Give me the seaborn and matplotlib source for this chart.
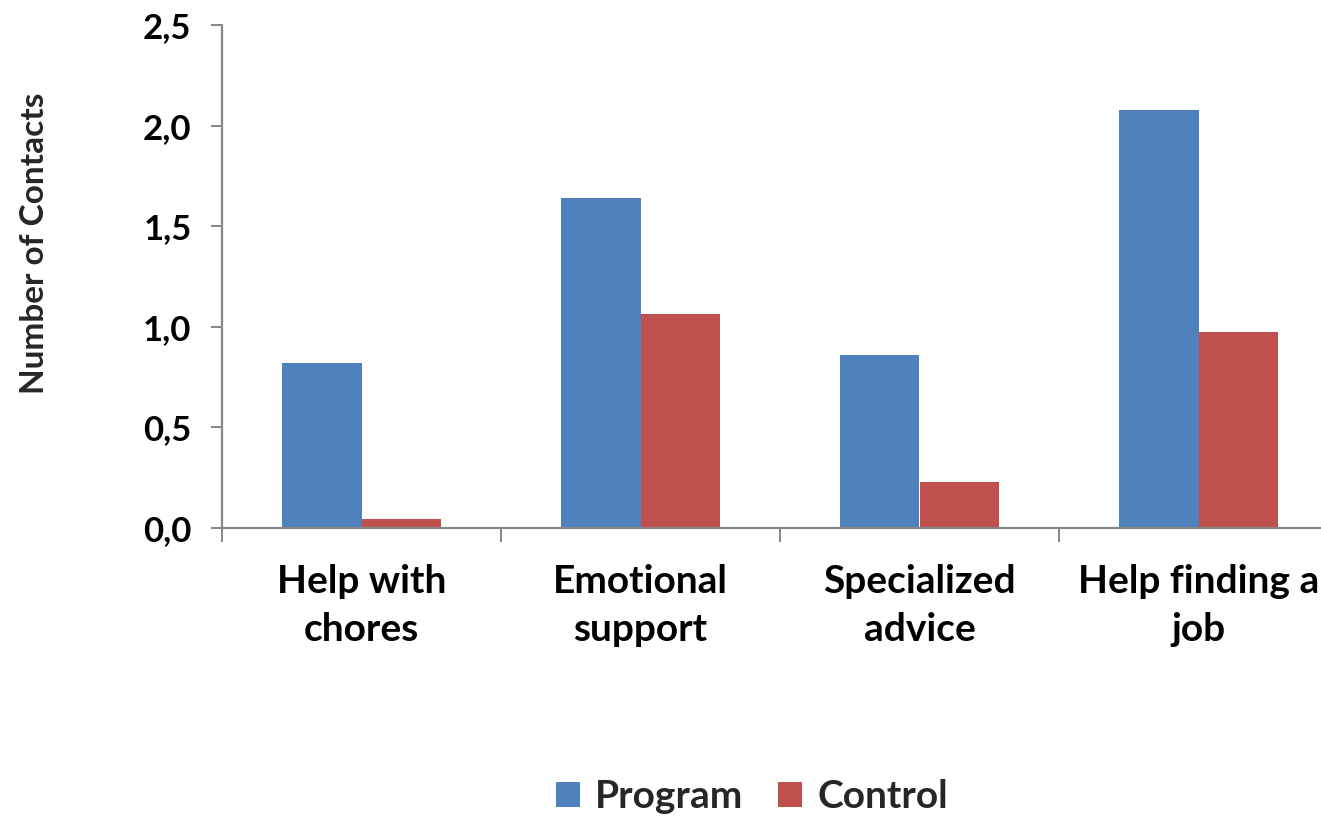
import matplotlib
matplotlib.use("Agg")
import matplotlib.pyplot as plt
from matplotlib.ticker import FuncFormatter, FixedLocator
import seaborn as sns
import pandas as pd

categories = ["Help with\nchores", "Emotional\nsupport", "Specialized\nadvice", "Help finding a\njob"]
program = [0.82, 1.64, 0.86, 2.08]
control = [0.045, 1.065, 0.23, 0.975]
series = ["Program", "Control"]
colors = ["#4F81BD", "#C0504D"]

df = pd.DataFrame({
    "category": categories * 2,
    "group": [series[0]] * len(categories) + [series[1]] * len(categories),
    "value": program + control,
})

sns.set_theme(style="white")
plt.rcParams["font.family"] = ["Lato", "DejaVu Sans"]
plt.rcParams["font.weight"] = "bold"

fig = plt.figure(figsize=(13.21, 8.17), dpi=100)
ax = fig.add_axes([222 / 1321, 1 - 528 / 817, 1116 / 1321, 503 / 817])

sns.barplot(data=df, x="category", y="value", hue="group", order=categories,
            hue_order=series, palette=colors, width=0.567, gap=0,
            edgecolor="none", linewidth=0, saturation=1, ax=ax)

ax.set_xlim(-0.5, 3.5)
ax.set_ylim(0, 2.5)
ax.set_yticks([0, 0.5, 1.0, 1.5, 2.0, 2.5])
ax.yaxis.set_major_formatter(FuncFormatter(lambda v, p: f"{v:.1f}".replace(".", ",")))

for s in ["top", "right"]:
    ax.spines[s].set_visible(False)
for s in ["left", "bottom"]:
    ax.spines[s].set_color("#868686")
    ax.spines[s].set_linewidth(1.6)
ax.spines["left"].set_bounds(0, 2.5)

ax.tick_params(axis="y", which="major", direction="out", length=8, width=1.4,
               color="#868686", labelsize=25, pad=14, left=True)
ax.tick_params(axis="x", which="major", length=0, labelsize=28, pad=26)
ax.xaxis.set_minor_locator(FixedLocator([-0.5, 0.5, 1.5, 2.5, 3.5]))
ax.tick_params(axis="x", which="minor", direction="out", length=10, width=1.4,
               color="#868686", bottom=True)
for lbl in ax.get_xticklabels() + ax.get_yticklabels():
    lbl.set_fontweight("bold")
    lbl.set_color("black")
for lbl in ax.get_xticklabels():
    lbl.set_linespacing(1.43)

ax.set_xlabel("")
ax.set_ylabel("Number of Contacts", fontsize=24, fontweight="bold")
ax.yaxis.set_label_coords((49 - 222) / 1116, (528 - 243) / 503)

leg = ax.get_legend()
if leg is not None:
    leg.remove()
handles, labels = ax.get_legend_handles_labels()
fig.legend(handles, labels, loc="center", bbox_to_anchor=(752 / 1321, 1 - 797 / 817),
           ncol=2, frameon=False, handlelength=0.6, handleheight=0.6,
           handletextpad=0.4, columnspacing=0.9, prop={"weight": "bold", "size": 28})

fig.savefig("out.png", dpi=100)
